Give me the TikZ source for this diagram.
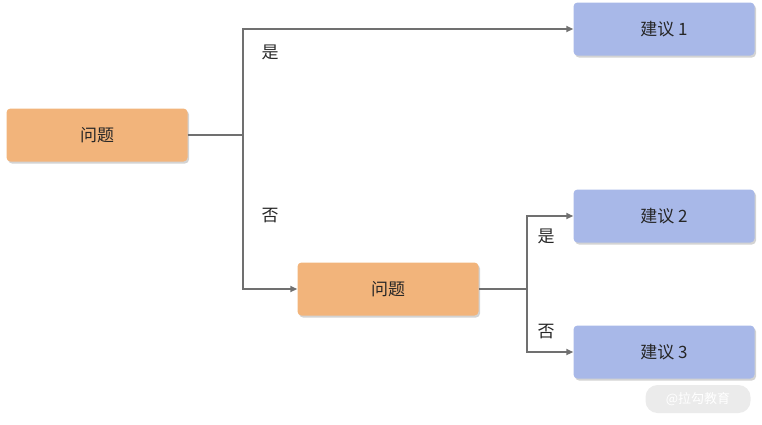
\documentclass[tikz,border=0pt]{standalone}
\usepackage{fontspec}
\setmainfont{Noto Sans CJK SC}
\usetikzlibrary{shadows,arrows.meta}
\definecolor{org}{HTML}{F2B47B}
\definecolor{blu}{HTML}{A8B8E8}
\definecolor{ln}{HTML}{707070}
\tikzset{
 box/.style={rounded corners=4pt,minimum width=181pt,minimum height=53pt,font=\fontsize{17pt}{20pt}\selectfont,text=black!85,drop shadow={shadow xshift=1.5pt,shadow yshift=-2pt,opacity=0.35}},
 q/.style={box,fill=org},
 s/.style={box,fill=blu},
 con/.style={draw=ln,line width=2pt,-{Triangle[length=7pt,width=6pt]}},
 lab/.style={font=\fontsize{17pt}{20pt}\selectfont,text=black!85}
}
\begin{document}
\begin{tikzpicture}[x=1pt,y=-1pt]
\useasboundingbox (0,0) rectangle (762,424);
\node[q] (q1) at (97,135) {问题};
\node[q] (q2) at (388,289) {问题};
\node[s] (s1) at (664,29) {建议 1};
\node[s] (s2) at (664,216) {建议 2};
\node[s] (s3) at (664,352) {建议 3};
\coordinate (b1) at (243,135);
\coordinate (b2) at (527,289);
\draw[draw=ln,line width=2pt] (q1.east) -- (b1);
\draw[con] (b1) |- (s1.west);
\draw[con] (b1) |- (q2.west);
\draw[draw=ln,line width=2pt] (q2.east) -- (b2);
\draw[con] (b2) |- (s2.west);
\draw[con] (b2) |- (s3.west);
\node[lab] (l1) at (270,52) {是};
\node[lab] (l2) at (270,216) {否};
\node[lab] (l3) at (546,236) {是};
\node[lab] (l4) at (546,332) {否};
\node[fill=black!8,rounded corners=12pt,minimum width=105pt,minimum height=28pt,text=white,font=\fontsize{13pt}{15pt}\selectfont] (wm) at (698,399) {@拉勾教育};
\end{tikzpicture}
\end{document}
